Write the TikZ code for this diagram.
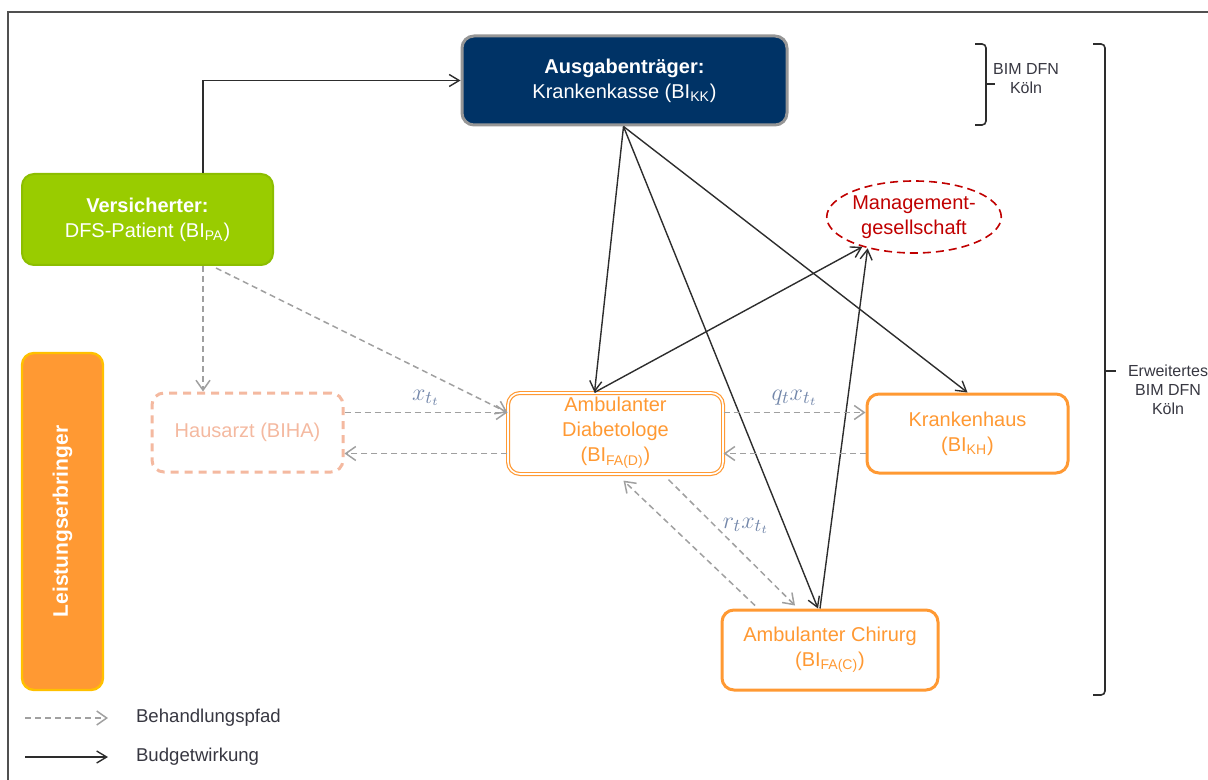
\documentclass[tikz,border=0pt]{standalone}
\usepackage{fontspec}
\setmainfont{Liberation Sans}
\usetikzlibrary{arrows.meta,calc,shapes.geometric}

\definecolor{navy}{RGB}{0,51,102}
\definecolor{boxgray}{RGB}{150,150,150}
\definecolor{leaf}{RGB}{153,204,0}
\definecolor{leafdark}{RGB}{140,190,0}
\definecolor{orng}{RGB}{255,153,51}
\definecolor{gold}{RGB}{255,192,0}
\definecolor{salmon}{RGB}{244,185,160}
\definecolor{darkred}{RGB}{192,0,0}
\definecolor{pathgray}{RGB}{160,160,160}
\definecolor{budgetcol}{RGB}{45,45,45}
\definecolor{mathblue}{RGB}{115,135,170}
\definecolor{framegray}{RGB}{80,80,80}
\definecolor{txtgray}{RGB}{55,55,65}

\tikzset{
  box/.style={rounded corners=6pt, align=center, inner sep=2pt,
    font=\fontsize{10}{12.5}\selectfont},
  orangebox/.style={box, draw=orng, line width=1.5pt, fill=white, text=orng},
  treatarrow/.style={draw=pathgray, line width=0.75pt, dash pattern=on 3pt off 2pt,
    -{Straight Barb[length=5pt,width=7pt]}},
  budgetarrow/.style={draw=budgetcol, line width=0.7pt,
    -{Straight Barb[length=5pt,width=6pt]}},
  mathlabel/.style={text=mathblue, font=\fontsize{12.5}{14}\selectfont, inner sep=1pt},
  bracetext/.style={align=center, text=txtgray, font=\fontsize{8}{9.5}\selectfont},
  legendtext/.style={anchor=west, text=txtgray, font=\fontsize{9.3}{11}\selectfont}
}

\begin{document}
\begin{tikzpicture}[x=0.5pt,y=-0.5pt]
\useasboundingbox (0,0) rectangle (1208,780);

% outer frame
\draw[framegray, line width=1pt] (8,780) -- (8,12) -- (1208,12);

% payer and insured
\node[box, fill=navy, draw=boxgray, line width=1.5pt, text=white,
      minimum width=162.5pt, minimum height=44.5pt] (kk) at (624.5,80.5)
      {\textbf{Ausgabenträger:}\\Krankenkasse (BI\textsubscript{KK})};
\node[box, fill=leaf, draw=leafdark, line width=1pt, text=white,
      minimum width=125.5pt, minimum height=45.5pt] (pa) at (147.5,219.5)
      {\textbf{Versicherter:}\\DFS-Patient (BI\textsubscript{PA})};

% providers
\node[box, rotate=90, fill=orng, draw=gold, line width=1.2pt, text=white,
      minimum width=168.5pt, minimum height=40.5pt,
      font=\fontsize{10.5}{12}\selectfont\bfseries] (lb) at (62.5,521.5)
      {Leistungserbringer};
\node[box, draw=salmon, line width=1.5pt, dash pattern=on 4pt off 3pt, text=salmon,
      minimum width=95.5pt, minimum height=39.5pt] (ha) at (247.5,432.5)
      {Hausarzt (BIHA)};
\node[box, draw=orng, line width=0.6pt, double=white, double distance=0.8pt, text=orng,
      minimum width=107.5pt, minimum height=40.5pt, text depth=4pt] (fd) at (615.5,433.5)
      {Ambulanter\\Diabetologe\\(BI\textsubscript{FA(D)})};
\node[orangebox, minimum width=100.5pt, minimum height=39.5pt] (kh) at (967.5,433.5)
      {Krankenhaus\\(BI\textsubscript{KH})};
\node[orangebox, minimum width=108pt, minimum height=40pt] (fc) at (830,650)
      {Ambulanter Chirurg\\(BI\textsubscript{FA(C)})};
\node[ellipse, draw=darkred, line width=0.8pt, dash pattern=on 4pt off 2.5pt,
      text=darkred, align=center, inner sep=0pt, font=\fontsize{10}{12.5}\selectfont,
      minimum width=85pt, minimum height=36pt] (mg) at (914,217)
      {Management-\\gesellschaft};

% budget effects
\draw[budgetarrow] ($(pa.north)+(55.5,0)$) |- (kk.west);
\draw[budgetarrow] ($(kk.south)+(-1,0)$) -- ($(fd.north)+(-21,0)$);
\draw[budgetarrow] ($(kk.south)+(-1,0)$) -- (kh.north);
\draw[budgetarrow] ($(kk.south)+(-1,0)$) -- ($(fc.north)+(-12,0)$);
\draw[budgetarrow] ($(fd.north)+(-21,0)$) -- (mg.210);
\draw[budgetarrow] ($(fc.north)+(-10,0)$) -- (mg.214);

% treatment paths
\draw[treatarrow] ($(pa.south)+(55.5,0)$) -- ($(ha.north)+(-44.5,0)$);
\draw[treatarrow] ($(pa.south east)+(-58,2)$) -- ($(fd.west)+(0,-21)$);
\draw[treatarrow] ($(ha.east)+(0,-20)$) -- node[mathlabel, above=2pt] (lx) {$x_{t_t}$} ($(fd.west)+(0,-21)$);
\draw[treatarrow] ($(fd.west)+(0,20)$) -- ($(ha.east)+(0,21)$);
\draw[treatarrow] ($(fd.east)+(0,-21)$) -- node[mathlabel, above=2pt] (lq) {$q_t x_{t_t}$} ($(kh.west)+(0,-21)$);
\draw[treatarrow] ($(kh.west)+(0,20)$) -- ($(fd.east)+(0,20)$);
\draw[treatarrow] ($(fd.south)+(53,5)$) -- ($(fc.north)+(-35,-3)$);
\draw[treatarrow] ($(fc.north)+(-75,-3)$) -- ($(fd.south)+(8,6)$);
\node[mathlabel] (lr) at (746,526) {$r_t x_{t_t}$};

% braces
\draw[budgetcol, line width=0.8pt, rounded corners=2pt]
  (975,44) -- (986,44) -- (986,125) -- (975,125);
\draw[budgetcol, line width=0.8pt] (986,84) -- (995,84);
\node[bracetext] (bim) at (1026,79) {BIM DFN\\Köln};
\draw[budgetcol, line width=0.8pt, rounded corners=2pt]
  (1093,44) -- (1105,44) -- (1105,695) -- (1093,695);
\draw[budgetcol, line width=0.8pt] (1105,371) -- (1116,371);
\node[bracetext] (ebim) at (1168,390) {Erweitertes\\BIM DFN\\Köln};

% legend
\coordinate (la1) at (25,718);
\coordinate (la2) at (108,718);
\coordinate (lb1) at (25,757);
\coordinate (lb2) at (108,757);
\draw[treatarrow] (la1) -- (la2);
\draw[budgetarrow] (lb1) -- (lb2);
\node[legendtext] (lt1) at (129,718) {Behandlungspfad};
\node[legendtext] (lt2) at (129,757) {Budgetwirkung};
\end{tikzpicture}
\end{document}
